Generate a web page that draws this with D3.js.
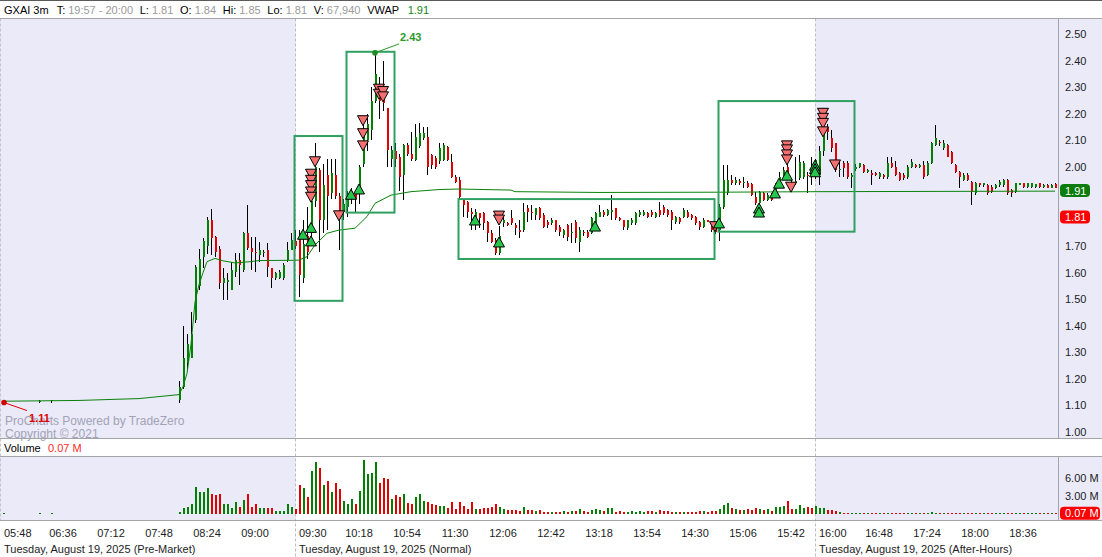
<!DOCTYPE html>
<html>
<head>
<meta charset="utf-8">
<script src="https://cdnjs.cloudflare.com/ajax/libs/d3/7.8.5/d3.min.js"></script>
<style>
  html, body { margin: 0; padding: 0; background: #ffffff; }
  svg { display: block; font-family: "Liberation Sans", Arial, sans-serif; }
</style>
</head>
<body>
<svg id="chart" width="1102" height="557"></svg>
<script>
// ---------------- data ----------------
const headerItems = [
  ["GXAI 3m", "title"], ["T:", "key"], ["19:57 - 20:00", "value"],
  ["L:", "key"], ["1.81", "value"], ["O:", "key"], ["1.84", "value"],
  ["Hi:", "key"], ["1.85", "value"], ["Lo:", "key"], ["1.81", "value"],
  ["V:", "key"], ["67,940", "value"], ["VWAP", "vwapKey"], ["1.91", "vwap"]
];

const firstSlot = "05:48";
const lastSlot = "18:57";

// [time, open, high, low, close, volume (millions)]
const preMarketBars = [
  ["05:48", 1.11, 1.11, 1.11, 1.11, 0.08],
  ["06:15", 1.115, 1.12, 1.11, 1.115, 0.06],
  ["06:24", 1.115, 1.12, 1.11, 1.12, 0.06],
  ["08:00", 1.12, 1.19, 1.11, 1.17, 0.25],
  ["08:03", 1.17, 1.40, 1.16, 1.28, 0.9],
  ["08:06", 1.26, 1.37, 1.23, 1.33, 1.1],
  ["08:09", 1.28, 1.45, 1.28, 1.37, 1.6],
  ["08:12", 1.42, 1.63, 1.41, 1.62, 4.5],
  ["08:15", 1.55, 1.69, 1.535, 1.65, 3.7],
  ["08:18", 1.66, 1.73, 1.617, 1.72, 3.7],
  ["08:21", 1.70, 1.81, 1.67, 1.80, 4.3],
  ["08:24", 1.80, 1.84, 1.667, 1.73, 3.4],
  ["08:27", 1.735, 1.74, 1.66, 1.68, 3.1],
  ["08:30", 1.69, 1.70, 1.54, 1.56, 3.3],
  ["08:33", 1.56, 1.617, 1.497, 1.58, 1.6],
  ["08:36", 1.565, 1.60, 1.497, 1.572, 1.6],
  ["08:39", 1.535, 1.642, 1.535, 1.61, 0.9],
  ["08:42", 1.604, 1.673, 1.585, 1.648, 1.9],
  ["08:45", 1.648, 1.673, 1.554, 1.629, 1.1],
  ["08:48", 1.61, 1.755, 1.604, 1.749, 2.3],
  ["08:51", 1.749, 1.856, 1.686, 1.692, 3.4],
  ["08:54", 1.692, 1.736, 1.61, 1.68, 1.2],
  ["08:57", 1.68, 1.736, 1.604, 1.675, 1.6],
  ["09:00", 1.667, 1.717, 1.642, 1.686, 0.9],
  ["09:03", 1.673, 1.686, 1.66, 1.68, 0.9],
  ["09:06", 1.686, 1.711, 1.585, 1.623, 0.9],
  ["09:09", 1.617, 1.617, 1.541, 1.579, 0.9],
  ["09:12", 1.579, 1.604, 1.572, 1.598, 0.4],
  ["09:15", 1.579, 1.61, 1.575, 1.604, 0.4],
  ["09:18", 1.579, 1.635, 1.572, 1.629, 0.4],
  ["09:21", 1.648, 1.717, 1.642, 1.686, 1.6],
  ["09:24", 1.686, 1.749, 1.686, 1.723, 1.1],
  ["09:27", 1.72, 1.76, 1.69, 1.70, 0.76]
];

const regularBars = [
  ["09:30", 1.73, 1.76, 1.51, 1.59, 4.82],
  ["09:33", 1.58, 1.80, 1.56, 1.71, 4.3],
  ["09:36", 1.74, 1.85, 1.65, 1.68, 2.8],
  ["09:39", 1.75, 1.94, 1.70, 1.87, 7.2],
  ["09:42", 1.87, 2.09, 1.85, 2.00, 8.7],
  ["09:45", 1.988, 1.994, 1.68, 1.80, 7.7],
  ["09:48", 1.80, 2.01, 1.75, 1.93, 4.82],
  ["09:51", 1.97, 2.03, 1.76, 1.89, 5.5],
  ["09:54", 1.90, 2.03, 1.88, 1.975, 3.64],
  ["09:57", 1.97, 2.03, 1.88, 1.89, 5.16],
  ["10:00", 1.89, 1.90, 1.686, 1.83, 4.15],
  ["10:03", 1.83, 1.88, 1.80, 1.86, 2.1],
  ["10:06", 1.85, 1.91, 1.81, 1.88, 1.61],
  ["10:09", 1.89, 1.92, 1.86, 1.91, 2.46],
  ["10:12", 1.90, 1.906, 1.83, 1.88, 1.61],
  ["10:15", 1.90, 2.006, 1.86, 2.00, 3.8],
  ["10:18", 2.01, 2.16, 2.00, 2.14, 9.03],
  ["10:21", 2.10, 2.20, 2.06, 2.16, 6.7],
  ["10:24", 2.14, 2.30, 2.10, 2.25, 6.86],
  ["10:27", 2.25, 2.43, 2.24, 2.35, 8.7],
  ["10:30", 2.30, 2.34, 2.18, 2.25, 5.16],
  ["10:33", 2.29, 2.40, 2.21, 2.24, 6.0],
  ["10:36", 2.22, 2.22, 2.00, 2.063, 5.84],
  ["10:39", 2.03, 2.08, 2.00, 2.063, 2.46],
  ["10:42", 2.06, 2.09, 2.00, 2.03, 3.14],
  ["10:45", 2.038, 2.05, 1.91, 1.963, 2.8],
  ["10:48", 1.97, 2.085, 1.875, 2.082, 3.3],
  ["10:51", 2.082, 2.09, 2.04, 2.05, 1.78],
  ["10:54", 2.05, 2.13, 2.02, 2.03, 1.61],
  ["10:57", 2.025, 2.16, 2.02, 2.114, 2.8],
  ["11:00", 2.08, 2.164, 2.07, 2.126, 3.3],
  ["11:03", 2.11, 2.15, 2.10, 2.126, 2.1],
  ["11:06", 2.114, 2.15, 1.97, 2.00, 1.95],
  ["11:09", 2.044, 2.05, 1.99, 2.006, 1.61],
  ["11:12", 2.032, 2.04, 1.99, 2.00, 1.44],
  ["11:15", 2.02, 2.088, 2.01, 2.07, 1.27],
  ["11:18", 2.025, 2.09, 2.02, 2.082, 1.27],
  ["11:21", 2.076, 2.08, 2.02, 2.025, 0.93],
  ["11:24", 2.019, 2.05, 1.956, 1.963, 1.95],
  ["11:27", 1.963, 1.97, 1.94, 1.944, 0.76],
  ["11:30", 1.95, 1.96, 1.88, 1.887, 1.95],
  ["11:33", 1.874, 1.876, 1.811, 1.856, 1.27],
  ["11:36", 1.868, 1.87, 1.805, 1.83, 0.76],
  ["11:39", 1.83, 1.843, 1.761, 1.82, 1.95],
  ["11:42", 1.80, 1.84, 1.76, 1.83, 0.76],
  ["11:45", 1.824, 1.826, 1.768, 1.805, 0.76],
  ["11:48", 1.824, 1.83, 1.761, 1.786, 0.93],
  ["11:51", 1.793, 1.795, 1.717, 1.749, 0.93],
  ["11:54", 1.749, 1.761, 1.711, 1.717, 1.1],
  ["11:57", 1.724, 1.73, 1.667, 1.673, 1.61],
  ["12:00", 1.675, 1.775, 1.667, 1.74, 1.1],
  ["12:03", 1.786, 1.818, 1.774, 1.80, 0.76],
  ["12:06", 1.786, 1.79, 1.775, 1.78, 0.59],
  ["12:09", 1.805, 1.837, 1.78, 1.786, 0.59],
  ["12:12", 1.78, 1.786, 1.742, 1.77, 0.59],
  ["12:15", 1.761, 1.80, 1.73, 1.755, 0.42],
  ["12:18", 1.761, 1.862, 1.755, 1.83, 1.1],
  ["12:21", 1.843, 1.856, 1.793, 1.83, 0.59],
  ["12:24", 1.83, 1.856, 1.80, 1.824, 0.59],
  ["12:27", 1.818, 1.845, 1.80, 1.843, 0.42],
  ["12:30", 1.843, 1.85, 1.80, 1.805, 0.59],
  ["12:33", 1.818, 1.824, 1.768, 1.774, 0.25],
  ["12:36", 1.79, 1.80, 1.77, 1.78, 0.25],
  ["12:39", 1.786, 1.805, 1.78, 1.799, 0.25],
  ["12:42", 1.799, 1.80, 1.755, 1.761, 0.25],
  ["12:45", 1.774, 1.78, 1.74, 1.755, 0.3],
  ["12:48", 1.742, 1.765, 1.73, 1.761, 0.5],
  ["12:51", 1.78, 1.785, 1.72, 1.736, 0.3],
  ["12:54", 1.75, 1.786, 1.711, 1.755, 0.4],
  ["12:57", 1.793, 1.80, 1.711, 1.73, 0.5],
  ["13:00", 1.717, 1.774, 1.679, 1.761, 0.8],
  ["13:03", 1.755, 1.76, 1.74, 1.749, 0.4],
  ["13:06", 1.755, 1.76, 1.73, 1.736, 0.3],
  ["13:09", 1.749, 1.81, 1.745, 1.805, 0.6],
  ["13:12", 1.786, 1.83, 1.78, 1.824, 0.8],
  ["13:15", 1.812, 1.856, 1.81, 1.83, 0.6],
  ["13:18", 1.83, 1.835, 1.81, 1.818, 0.4],
  ["13:21", 1.818, 1.84, 1.815, 1.837, 0.9],
  ["13:24", 1.83, 1.893, 1.799, 1.835, 0.9],
  ["13:27", 1.843, 1.845, 1.80, 1.805, 0.3],
  ["13:30", 1.805, 1.81, 1.795, 1.799, 0.4],
  ["13:33", 1.799, 1.80, 1.761, 1.774, 0.3],
  ["13:36", 1.768, 1.80, 1.76, 1.799, 0.3],
  ["13:39", 1.786, 1.805, 1.78, 1.799, 0.4],
  ["13:42", 1.786, 1.83, 1.78, 1.824, 0.3],
  ["13:45", 1.818, 1.837, 1.81, 1.83, 0.4],
  ["13:48", 1.818, 1.835, 1.815, 1.83, 0.3],
  ["13:51", 1.824, 1.83, 1.805, 1.812, 0.5],
  ["13:54", 1.83, 1.835, 1.81, 1.818, 0.4],
  ["13:57", 1.812, 1.83, 1.805, 1.824, 0.3],
  ["14:00", 1.837, 1.868, 1.812, 1.818, 0.6],
  ["14:03", 1.849, 1.855, 1.818, 1.824, 0.4],
  ["14:06", 1.837, 1.84, 1.81, 1.818, 0.5],
  ["14:09", 1.83, 1.837, 1.761, 1.799, 0.3],
  ["14:12", 1.793, 1.815, 1.785, 1.812, 0.3],
  ["14:15", 1.805, 1.81, 1.785, 1.793, 0.3],
  ["14:18", 1.812, 1.843, 1.805, 1.837, 0.3],
  ["14:21", 1.83, 1.835, 1.805, 1.812, 0.3],
  ["14:24", 1.818, 1.822, 1.80, 1.805, 0.3],
  ["14:27", 1.812, 1.815, 1.78, 1.786, 0.3],
  ["14:30", 1.793, 1.795, 1.761, 1.774, 0.4],
  ["14:33", 1.774, 1.805, 1.768, 1.799, 0.4],
  ["14:36", 1.799, 1.80, 1.79, 1.793, 0.3],
  ["14:39", 1.786, 1.79, 1.755, 1.761, 0.4],
  ["14:42", 1.774, 1.78, 1.745, 1.755, 0.5],
  ["14:45", 1.76, 1.86, 1.72, 1.85, 0.8],
  ["14:48", 1.85, 2.007, 1.84, 1.95, 1.5],
  ["14:51", 1.90, 2.007, 1.893, 1.95, 1.8],
  ["14:54", 1.95, 1.969, 1.93, 1.937, 1.0],
  ["14:57", 1.937, 1.963, 1.93, 1.95, 0.8],
  ["15:00", 1.946, 1.955, 1.93, 1.937, 0.6],
  ["15:03", 1.94, 1.963, 1.919, 1.944, 0.6],
  ["15:06", 1.94, 1.945, 1.92, 1.925, 0.8],
  ["15:09", 1.934, 1.94, 1.89, 1.893, 0.6],
  ["15:12", 1.887, 1.906, 1.856, 1.862, 1.0],
  ["15:15", 1.862, 1.91, 1.855, 1.906, 0.8],
  ["15:18", 1.90, 1.905, 1.87, 1.875, 0.6],
  ["15:21", 1.875, 1.90, 1.87, 1.893, 0.8],
  ["15:24", 1.893, 1.90, 1.87, 1.875, 0.5],
  ["15:27", 1.893, 1.94, 1.89, 1.937, 1.1],
  ["15:30", 1.925, 1.981, 1.92, 1.963, 1.1],
  ["15:33", 1.956, 2.0, 1.95, 1.988, 1.3],
  ["15:36", 2.0, 2.03, 1.955, 1.963, 2.15],
  ["15:39", 1.944, 1.95, 1.925, 1.931, 0.8],
  ["15:42", 1.94, 2.038, 1.93, 1.945, 0.8],
  ["15:45", 1.956, 2.044, 1.95, 2.019, 1.5],
  ["15:48", 1.963, 2.02, 1.955, 2.013, 1.0],
  ["15:51", 1.97, 1.981, 1.90, 1.965, 1.1],
  ["15:54", 1.981, 2.038, 1.931, 1.963, 1.0],
  ["15:57", 1.963, 2.03, 1.955, 2.025, 1.3]
];

const afterHoursBars = [
  ["16:00", 1.97, 2.08, 1.93, 2.06, 1.0],
  ["16:03", 2.06, 2.22, 2.04, 2.15, 1.0],
  ["16:06", 2.15, 2.16, 2.10, 2.13, 0.6],
  ["16:09", 2.107, 2.139, 2.057, 2.069, 0.6],
  ["16:12", 2.088, 2.09, 1.98, 1.988, 0.45],
  ["16:15", 1.99, 2.025, 1.96, 1.992, 0.3],
  ["16:18", 2.013, 2.02, 1.963, 1.994, 0.2],
  ["16:21", 2.013, 2.02, 1.955, 1.963, 0.2],
  ["16:24", 1.963, 1.975, 1.919, 1.97, 0.15],
  ["16:27", 1.99, 2.01, 1.985, 2.0, 0.1],
  ["16:30", 2.0, 2.015, 1.995, 2.013, 0.2],
  ["16:33", 2.007, 2.01, 1.975, 1.981, 0.15],
  ["16:36", 1.981, 1.99, 1.975, 1.988, 0.1],
  ["16:39", 1.975, 1.988, 1.931, 1.969, 0.1],
  ["16:42", 1.975, 1.98, 1.965, 1.969, 0.1],
  ["16:45", 1.963, 1.98, 1.955, 1.975, 0.1],
  ["16:48", 1.969, 1.972, 1.955, 1.963, 0.1],
  ["16:51", 1.963, 2.038, 1.955, 2.013, 0.2],
  ["16:54", 2.013, 2.038, 1.995, 2.0, 0.1],
  ["16:57", 2.0, 2.02, 1.965, 1.969, 0.15],
  ["17:00", 1.975, 1.98, 1.945, 1.95, 0.1],
  ["17:03", 1.969, 1.975, 1.95, 1.956, 0.1],
  ["17:06", 1.963, 2.005, 1.955, 2.0, 0.15],
  ["17:09", 2.0, 2.03, 1.995, 2.019, 0.15],
  ["17:12", 2.007, 2.01, 1.995, 2.0, 0.1],
  ["17:15", 2.0, 2.01, 1.995, 2.007, 0.1],
  ["17:18", 2.007, 2.02, 1.955, 1.963, 0.15],
  ["17:21", 1.969, 2.02, 1.965, 2.013, 0.2],
  ["17:24", 2.013, 2.095, 2.01, 2.088, 0.25],
  ["17:27", 2.082, 2.158, 2.08, 2.107, 0.2],
  ["17:30", 2.095, 2.10, 2.08, 2.088, 0.1],
  ["17:33", 2.069, 2.10, 2.065, 2.088, 0.15],
  ["17:36", 2.082, 2.085, 2.035, 2.038, 0.15],
  ["17:39", 2.057, 2.06, 2.01, 2.013, 0.1],
  ["17:42", 2.007, 2.01, 1.975, 1.981, 0.1],
  ["17:45", 1.981, 1.985, 1.919, 1.963, 0.15],
  ["17:48", 1.95, 1.975, 1.945, 1.969, 0.1],
  ["17:51", 1.969, 1.975, 1.945, 1.95, 0.1],
  ["17:54", 1.944, 1.945, 1.856, 1.906, 0.2],
  ["17:57", 1.90, 1.944, 1.895, 1.937, 0.15],
  ["18:00", 1.937, 1.94, 1.925, 1.931, 0.1],
  ["18:03", 1.931, 1.94, 1.925, 1.937, 0.1],
  ["18:06", 1.931, 1.935, 1.895, 1.90, 0.1],
  ["18:09", 1.925, 1.93, 1.90, 1.906, 0.1],
  ["18:12", 1.919, 1.935, 1.915, 1.931, 0.1],
  ["18:15", 1.931, 1.95, 1.925, 1.944, 0.1],
  ["18:18", 1.931, 1.955, 1.925, 1.95, 0.15],
  ["18:21", 1.95, 1.955, 1.895, 1.90, 0.1],
  ["18:24", 1.912, 1.915, 1.887, 1.90, 0.1],
  ["18:27", 1.906, 1.94, 1.90, 1.937, 0.1],
  ["18:30", 1.931, 1.94, 1.93, 1.937, 0.1],
  ["18:33", 1.937, 1.94, 1.92, 1.925, 0.1],
  ["18:36", 1.925, 1.94, 1.92, 1.937, 0.1],
  ["18:39", 1.925, 1.94, 1.92, 1.937, 0.1],
  ["18:42", 1.925, 1.935, 1.92, 1.934, 0.1],
  ["18:45", 1.937, 1.94, 1.92, 1.925, 0.1],
  ["18:48", 1.925, 1.935, 1.92, 1.931, 0.1],
  ["18:51", 1.931, 1.935, 1.918, 1.921, 0.1],
  ["18:54", 1.921, 1.935, 1.918, 1.931, 0.1],
  ["18:57", 1.934, 1.937, 1.918, 1.921, 0.1]
];

// VWAP readings [time, value]
const vwapPoints = [
  ["05:48", 1.115], ["06:45", 1.118], ["07:30", 1.125], ["08:00", 1.14],
  ["08:03", 1.17], ["08:06", 1.22], ["08:09", 1.33], ["08:12", 1.49],
  ["08:15", 1.555], ["08:18", 1.60], ["08:21", 1.642], ["08:27", 1.654],
  ["08:33", 1.645], ["08:42", 1.637], ["08:54", 1.642], ["09:00", 1.646],
  ["09:27", 1.647], ["09:30", 1.648], ["09:36", 1.661], ["09:42", 1.705],
  ["09:51", 1.749], ["10:00", 1.761], ["10:12", 1.768], ["10:21", 1.812],
  ["10:27", 1.862], ["10:39", 1.893], ["10:54", 1.906], ["11:15", 1.914],
  ["11:30", 1.916], ["12:09", 1.912], ["12:12", 1.906], ["13:15", 1.903],
  ["14:45", 1.904], ["16:00", 1.906], ["18:57", 1.908]
];

// trade signals [time, price at the arrow tip]
const buySignals = [
  ["09:33", 1.764], ["09:39", 1.79], ["09:39", 1.739], ["10:09", 1.915], ["10:15", 1.935],
  ["11:42", 1.818], ["12:00", 1.735], ["13:12", 1.795], ["14:45", 1.807],
  ["15:15", 1.863], ["15:15", 1.848], ["15:27", 1.92], ["15:30", 1.957], ["15:36", 1.987],
  ["15:57", 2.025], ["15:57", 2.012], ["15:57", 2.0]
];
const sellSignals = [
  ["09:39", 1.953], ["09:39", 1.93], ["09:39", 1.91], ["09:39", 1.886], ["09:39", 1.866],
  ["09:42", 2.0], ["10:00", 1.796],
  ["10:18", 2.155], ["10:18", 2.106], ["10:18", 2.06],
  ["10:30", 2.274], ["10:30", 2.255], ["10:33", 2.265], ["10:33", 2.245],
  ["12:00", 1.795], ["12:00", 1.78], ["14:42", 1.755],
  ["15:36", 2.06], ["15:36", 2.045], ["15:36", 2.026], ["15:36", 2.007],
  ["15:39", 1.904],
  ["16:03", 2.183], ["16:03", 2.164], ["16:03", 2.145], ["16:03", 2.113],
  ["16:12", 1.988]
];

// consolidation boxes [from, to, top price, bottom price]
const rangeBoxes = [
  ["09:27", "10:03", 2.116, 1.494],
  ["10:06", "10:42", 2.434, 1.827],
  ["11:30", "14:42", 1.878, 1.652],
  ["14:45", "16:27", 2.248, 1.755]
];

const sessionHigh = ["10:27", 2.43];
const sessionLow = ["05:48", 1.11];
const vwapLast = 1.91;
const lastPrice = 1.81;
const lastVolume = 0.068;

const priceTicks = [1.0, 1.1, 1.2, 1.3, 1.4, 1.5, 1.6, 1.7, 1.8, 1.9, 2.0, 2.1, 2.2, 2.3, 2.4, 2.5];
const volumeTicks = [3, 6];
const timeTicks = ["06:36", "07:12", "07:48", "08:24", "09:00", "10:18", "10:54", "11:30",
  "12:06", "12:42", "13:18", "13:54", "14:30", "15:06", "15:42", "16:48", "17:24", "18:00", "18:36"];
const sessions = [
  { start: "05:48", label: "05:48", date: "Tuesday, August 19, 2025 (Pre-Market)", shaded: true },
  { start: "09:30", label: "09:30", date: "Tuesday, August 19, 2025 (Normal)", shaded: false },
  { start: "16:00", label: "16:00", date: "Tuesday, August 19, 2025 (After-Hours)", shaded: true }
];

// ---------------- helpers ----------------
const toMin = t => { const [h, m] = t.split(":").map(Number); return h * 60 + m; };
const fmtMin = m => String(Math.floor(m / 60)).padStart(2, "0") + ":" + String(m % 60).padStart(2, "0");
const slots = d3.range(toMin(firstSlot), toMin(lastSlot) + 1, 3).map(fmtMin);

const bars = [...preMarketBars, ...regularBars, ...afterHoursBars].map(r => ({
  t: r[0], o: r[1], h: r[2], l: r[3], c: r[4], v: r[5]
}));

// ---------------- layout ----------------
const W = 1102, H = 557;
const HEADER_BOTTOM = 18.5, PRICE_BOTTOM = 438.5, VOL_TOP = 456.5, VOL_BOTTOM = 520.5;
const AXIS_X = 1058.5;
const LAVENDER = "#eaeaf9";
const GRID_LINE = "#a4a4a8";
const UP = "#008000", DOWN = "#e00000";
const FONT = "Liberation Sans, Arial, sans-serif";

const x = d3.scaleBand().domain(slots).range([0.5, 0.5 + 4 * slots.length]).padding(0);
const cx = t => x(t) + 2;
const y = d3.scaleLinear().domain([1.0, 2.5]).range([431.7, 34.3]);
const yv = d3.scaleLinear().domain([0, 6]).range([513.7, 478.3]);

const svg = d3.select("#chart");
svg.append("rect").attr("width", W).attr("height", H).attr("fill", "#fff");

// session shading
const sessionEdge = s => Math.floor(x(s.start)) - 0.5;
sessions.forEach((s, i) => {
  if (!s.shaded) return;
  const x0 = i === 0 ? 0 : sessionEdge(s);
  const x1 = i + 1 < sessions.length ? sessionEdge(sessions[i + 1]) : AXIS_X;
  [[HEADER_BOTTOM, PRICE_BOTTOM], [VOL_TOP, VOL_BOTTOM]].forEach(([t, b]) => {
    svg.append("rect").attr("x", x0).attr("y", t).attr("width", x1 - x0).attr("height", b - t).attr("fill", LAVENDER);
  });
});
// axis columns
[[HEADER_BOTTOM, PRICE_BOTTOM], [VOL_TOP, VOL_BOTTOM]].forEach(([t, b]) => {
  svg.append("rect").attr("x", AXIS_X).attr("y", t).attr("width", W - AXIS_X).attr("height", b - t).attr("fill", LAVENDER);
});

// session dividers
svg.append("line").attr("x1", 0.5).attr("x2", 0.5).attr("y1", HEADER_BOTTOM).attr("y2", VOL_BOTTOM)
  .attr("stroke", "#c4c4cc").attr("stroke-dasharray", "3,2");
sessions.slice(1).forEach(s => {
  const xe = sessionEdge(s);
  svg.append("line").attr("x1", xe).attr("x2", xe).attr("y1", HEADER_BOTTOM).attr("y2", H)
    .attr("stroke", "#bdbdc4").attr("stroke-dasharray", "3,2");
});

// watermark
const wm = svg.append("g").attr("fill", "#a3a3b6").attr("font-size", 12);
wm.append("text").attr("x", 5).attr("y", 424.5).text("ProCharts Powered by TradeZero");
wm.append("text").attr("x", 5).attr("y", 437.5).text("Copyright \u00a9 2021");

// clip for price plot
svg.append("clipPath").attr("id", "pclip").append("rect")
  .attr("x", 0).attr("y", HEADER_BOTTOM).attr("width", AXIS_X).attr("height", PRICE_BOTTOM - HEADER_BOTTOM);
const plot = svg.append("g").attr("clip-path", "url(#pclip)");

// candles
const cg = plot.append("g").attr("shape-rendering", "crispEdges");
cg.selectAll("line.wick").data(bars).join("line").attr("class", "wick")
  .attr("x1", d => cx(d.t) + 0.5).attr("x2", d => cx(d.t) + 0.5)
  .attr("y1", d => y(d.h)).attr("y2", d => y(d.l))
  .attr("stroke", "#000").attr("stroke-width", 1);
cg.selectAll("rect.body").data(bars).join("rect").attr("class", "body")
  .attr("x", d => cx(d.t))
  .attr("y", d => y(Math.max(d.o, d.c)))
  .attr("width", 2)
  .attr("height", d => Math.max(1, Math.abs(y(d.o) - y(d.c))))
  .attr("fill", d => d.c >= d.o ? UP : DOWN);

// VWAP
plot.append("path").datum(vwapPoints)
  .attr("d", d3.line().x(d => cx(d[0]) + 0.5).y(d => y(d[1])))
  .attr("fill", "none").attr("stroke", "#0a820a").attr("stroke-width", 1);

// range boxes
plot.selectAll("rect.box").data(rangeBoxes).join("rect").attr("class", "box")
  .attr("x", d => cx(d[0])).attr("y", d => y(d[2]))
  .attr("width", d => cx(d[1]) - cx(d[0])).attr("height", d => y(d[3]) - y(d[2]))
  .attr("fill", "none").attr("stroke", "#2fa060").attr("stroke-width", 2);

// signals
const TW = 5.5, TH = 10;
plot.selectAll("path.sell").data(sellSignals).join("path").attr("class", "sell")
  .attr("d", d => {
    const px = cx(d[0]) + 0.5, py = y(d[1]);
    return `M${px - TW},${py - TH}L${px + TW},${py - TH}L${px},${py}Z`;
  })
  .attr("fill", "#f47070").attr("stroke", "#000").attr("stroke-width", 1);
plot.selectAll("path.buy").data(buySignals).join("path").attr("class", "buy")
  .attr("d", d => {
    const px = cx(d[0]) + 0.5, py = y(d[1]);
    return `M${px},${py}L${px + TW},${py + TH}L${px - TW},${py + TH}Z`;
  })
  .attr("fill", "#25c64a").attr("stroke", "#000").attr("stroke-width", 1);

// high / low markers
{
  const hx = cx(sessionHigh[0]) + 0.5, hy = y(sessionHigh[1]);
  plot.append("line").attr("x1", hx).attr("y1", hy).attr("x2", hx + 24).attr("y2", hy - 9)
    .attr("stroke", "#2a9a2a").attr("stroke-width", 1);
  plot.append("circle").attr("cx", hx).attr("cy", hy).attr("r", 2.8).attr("fill", "#1f8c1f");
  plot.append("text").attr("x", hx + 25).attr("y", hy - 11.5).attr("font-size", 11).attr("font-weight", "bold")
    .attr("fill", "#2e9a2a").text(sessionHigh[1].toFixed(2));

  const lx = cx(sessionLow[0]) + 1.5, ly = y(sessionLow[1]);
  plot.append("line").attr("x1", lx).attr("y1", ly).attr("x2", lx + 23).attr("y2", ly + 8)
    .attr("stroke", "#e00000").attr("stroke-width", 1);
  plot.append("circle").attr("cx", lx).attr("cy", ly).attr("r", 2.8).attr("fill", "#d00000");
  plot.append("text").attr("x", lx + 25).attr("y", ly + 19).attr("font-size", 11).attr("font-weight", "bold")
    .attr("fill", "#e00000").text(sessionLow[1].toFixed(2));
}

// volume bars
svg.append("g").attr("shape-rendering", "crispEdges")
  .selectAll("rect").data(bars).join("rect")
  .attr("x", d => cx(d.t)).attr("y", d => yv(d.v))
  .attr("width", 2).attr("height", d => Math.max(1, yv(0) - yv(d.v)))
  .attr("fill", d => d.c >= d.o ? UP : DOWN);

// frame lines
const hl = (yy, c) => svg.append("line").attr("x1", 0).attr("x2", W).attr("y1", yy).attr("y2", yy).attr("stroke", c);
hl(0.5, "#5a5a5a");
hl(HEADER_BOTTOM, GRID_LINE);
hl(PRICE_BOTTOM, GRID_LINE);
hl(VOL_TOP, GRID_LINE);
hl(VOL_BOTTOM, GRID_LINE);
svg.append("line").attr("x1", AXIS_X).attr("x2", AXIS_X).attr("y1", HEADER_BOTTOM).attr("y2", PRICE_BOTTOM).attr("stroke", GRID_LINE);
svg.append("line").attr("x1", AXIS_X).attr("x2", AXIS_X).attr("y1", VOL_TOP).attr("y2", VOL_BOTTOM).attr("stroke", GRID_LINE);

// header line: items laid out one after another
const headerColor = { title: "#000", key: "#000", vwapKey: "#000", value: "#9a9a9a", vwap: "#138a13" };
const headerGap = { title: 8, key: 3, vwapKey: 8.5, value: 6.7, vwap: 0 };
{
  const hg = svg.append("g").attr("font-size", 11);
  let hxPos = 4;
  headerItems.forEach(([txt, role]) => {
    const t = hg.append("text").attr("x", hxPos).attr("y", 14).attr("fill", headerColor[role]).text(txt);
    hxPos += t.node().getComputedTextLength() + headerGap[role];
  });
}

// price axis; the badges below sit over their tick levels
const badgeLevels = [vwapLast, lastPrice];
const pAxis = svg.append("g").attr("transform", `translate(${AXIS_X},0)`)
  .call(d3.axisRight(y)
    .tickValues(priceTicks.filter(v => badgeLevels.every(b => Math.abs(y(v) - y(b)) > 9)))
    .tickFormat(d3.format(".2f")).tickSize(0).tickPadding(6.5));
pAxis.select(".domain").remove();
pAxis.selectAll("text").attr("font-size", 11).attr("fill", "#1c1c24").attr("font-family", FONT);

function badge(val, scale, color, text, width) {
  const yy = scale(val);
  const g = svg.append("g");
  g.append("rect").attr("x", 1060).attr("y", yy - 6.5).attr("width", width).attr("height", 13).attr("rx", 4)
    .attr("fill", color);
  g.append("text").attr("x", 1065).attr("y", yy + 4).attr("font-size", 11).attr("fill", "#fff").text(text);
}
badge(vwapLast, y, "#0c7c0c", vwapLast.toFixed(2), 30);
badge(lastPrice, y, "#ff0000", lastPrice.toFixed(2), 30);

// volume header
svg.append("text").attr("x", 4).attr("y", 451.5).attr("font-size", 11).attr("fill", "#000").text("Volume");
svg.append("text").attr("x", 48).attr("y", 451.5).attr("font-size", 11).attr("fill", "#ff2a2a")
  .text(lastVolume.toFixed(2) + " M");

// volume axis
const vAxis = svg.append("g").attr("transform", `translate(${AXIS_X},0)`)
  .call(d3.axisRight(yv).tickValues(volumeTicks).tickFormat(d => d3.format(".2f")(d) + " M").tickSize(0).tickPadding(6.5));
vAxis.select(".domain").remove();
vAxis.selectAll("text").attr("font-size", 11).attr("fill", "#1c1c24").attr("font-family", FONT);
badge(lastVolume, yv, "#ff0000", lastVolume.toFixed(2) + " M", 40);

// time axis
const tAxis = svg.append("g").attr("transform", `translate(0,${VOL_BOTTOM})`)
  .call(d3.axisBottom(x).tickValues(timeTicks).tickSize(0).tickPadding(0));
tAxis.select(".domain").remove();
tAxis.selectAll("text").attr("font-size", 11).attr("fill", "#1c1c24")
  .attr("font-family", FONT)
  .attr("dy", null).attr("y", 16).attr("dx", -3.5);

// session start labels and dates
sessions.forEach((s, i) => {
  const sx = i === 0 ? 4 : sessionEdge(s) + 3.5;
  svg.append("text").attr("x", sx).attr("y", 536.7).attr("font-size", 11).attr("fill", "#1c1c24").text(s.label);
  svg.append("text").attr("x", sx).attr("y", 552.5).attr("font-size", 11).attr("fill", "#1c1c24").text(s.date);
});
</script>
</body>
</html>
